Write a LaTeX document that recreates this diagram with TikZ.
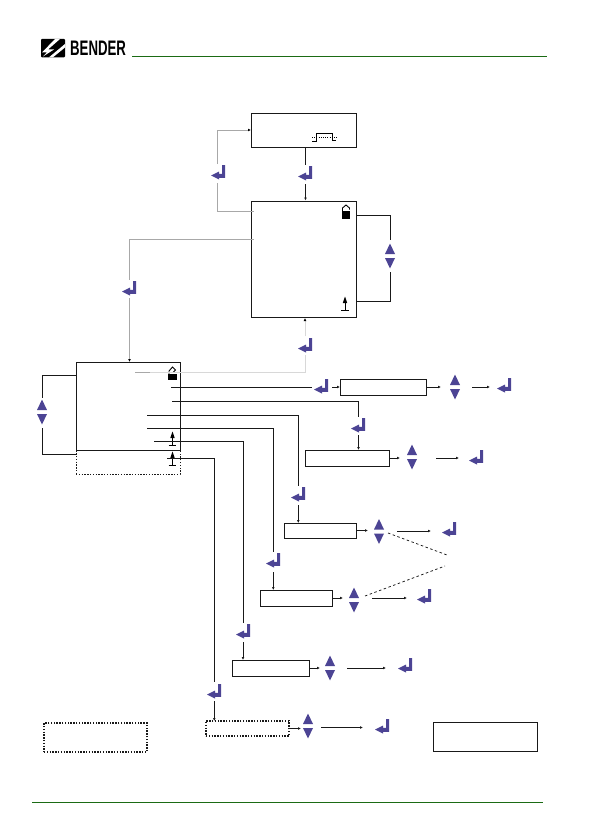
\documentclass[tikz,border=0pt]{standalone}
\usepackage{fontspec}
\setmainfont{Liberation Sans}
\usetikzlibrary{arrows.meta}
\definecolor{bgreen}{HTML}{1B6B14}
\definecolor{bpurple}{HTML}{4C4494}
\definecolor{wiregray}{HTML}{A8A8A8}
\definecolor{palegray}{HTML}{D8D8D8}
\newcommand{\boxnode}[6][boxsolid]{%
  \node[#1,minimum width={(#5-#3)*1pt},minimum height={(#6-#4)*1pt}] (#2) at ({(#3+#5)/2},{(#4+#6)/2}) {};}
\tikzset{
  x=1pt,y=-1pt,
  boxsolid/.style={draw=black!90,line width=0.8pt,inner sep=0pt,outer sep=0pt,rectangle},
  boxdotted/.style={draw=black!90,line width=1.2pt,dash pattern=on 1.4pt off 1.4pt,inner sep=0pt,outer sep=0pt,rectangle},
  boxdotfine/.style={draw=black!90,line width=0.8pt,dash pattern=on 1.3pt off 1.5pt,inner sep=0pt,outer sep=0pt,rectangle},
  wire/.style={draw=black!90,line width=0.75pt},
  wirearrow/.style={wire,-{Latex[length=3pt,width=2.8pt]}},
  graywire/.style={draw=wiregray,line width=0.8pt},
  paleline/.style={draw=palegray,line width=1pt},
  enterkey/.pic={\fill[bpurple] (-7,2.5)--(1,-1.5)--(1,0.8)--(4,0.8)--(4,-8)--(7,-8)--(7,4.8)--(1,4.8)--(1,6.5)--cycle;},
  updownkey/.pic={\fill[bpurple] (-5,-2)--(0,-12.5)--(5,-2)--cycle (-5,2)--(5,2)--(0,12.5)--cycle;},
  lockicon/.pic={\fill[black] (-4,0)rectangle(4,8);
    \draw[black,line width=0.9pt] (-3.5,0)--(-3.5,-3)--(0,-6)--(3.5,-3)--(3.5,-1.5);},
  lockshort/.pic={\fill[black] (-4.5,0)rectangle(4.5,6);
    \draw[black,line width=0.9pt] (-3.5,0)--(-3.5,-3)--(0,-7)--(3,-4)--(1,-2);},
  groundicon/.pic={\fill[black] (-2.2,-4)--(0,-10.5)--(2.2,-4)--cycle;
    \draw[black,line width=0.8pt] (0,-5)--(0,3);
    \draw[black,line width=1pt] (-3.8,3)--(3.8,3);},
}
\begin{document}
\begin{tikzpicture}
\useasboundingbox (0,0) rectangle (594,840);
% header and footer
\draw[bgreen,line width=0.8pt] (132,56.3)--(547,56.3);
\draw[bgreen,line width=0.8pt] (32,802.3)--(543,802.3);
\node[anchor=base west,inner sep=0pt,font=\fontsize{21}{21}\selectfont\bfseries,xscale=0.63] (logotext) at (70,55.7) {BENDER};
\fill[black,rounded corners=1pt] (41,39)--(65,39)--(65,57.3)--(41,57.3)--cycle;
\fill[white] (55,39)--(60,39)--(48,49.5)--(54,49.5)--(43,56.5)--(47,52.5)--(42,52.5)--cycle;
\fill[white] (65,44)--(65,47.5)--(53,57.3)--(49,57.3)--cycle;
% boxes
\boxnode{topbox}{251}{113}{356}{147}
\boxnode{mainbox}{251}{201}{356}{317.5}
\boxnode[boxdotfine]{dotpart}{76}{450}{180}{474}
\boxnode{leftbox}{76}{362}{180}{450}
\boxnode{boxa}{340}{379}{426}{395}
\boxnode{boxb}{305}{450}{389}{466}
\boxnode{boxc}{284}{523}{356}{538}
\boxnode{boxd}{260}{590}{332}{606}
\boxnode{boxe}{232}{660}{309}{676}
\boxnode[boxdotted]{boxf}{206}{721}{289}{736}
\boxnode[boxdotted]{notel}{44}{723}{147}{752}
\boxnode{noter}{433}{722}{537}{751}
% pulse symbol
\draw[black,line width=0.6pt] (312,141)--(316.5,141)--(316.5,133.5)--(332.5,133.5)--(332.5,140)--(336,140);
\draw[black,line width=0.6pt,dash pattern=on 1pt off 1.2pt] (312,137.5)--(337,137.5);
% icons
\pic at (346,211) {lockicon};
\pic at (172.5,374) {lockshort};
\pic at (345,307) {groundicon};
\pic at (172.5,442) {groundicon};
\pic at (172.5,462) {groundicon};
% keys
\pic (k1) at (218,173) {enterkey};
\pic (k2) at (305,174) {enterkey};
\pic (k3) at (129,289) {enterkey};
\pic (k4) at (305,346) {enterkey};
\pic (k5) at (321,387) {enterkey};
\pic (k6) at (504,386) {enterkey};
\pic (k7) at (358,426) {enterkey};
\pic (k8) at (476,458) {enterkey};
\pic (k9) at (298,495) {enterkey};
\pic (k10) at (449,530) {enterkey};
\pic (k11) at (273,561) {enterkey};
\pic (k12) at (424,597) {enterkey};
\pic (k13) at (243,632) {enterkey};
\pic (k14) at (405,666) {enterkey};
\pic (k15) at (214,692) {enterkey};
\pic (k16) at (382,727) {enterkey};
\pic at (390,256) {updownkey};
\pic at (42,412) {updownkey};
\pic at (455,387) {updownkey};
\pic at (412,457) {updownkey};
\pic at (379,531.5) {updownkey};
\pic at (354,600) {updownkey};
\pic at (330,668) {updownkey};
\pic at (308,726) {updownkey};
% free-end coordinates
\coordinate (g1) at (254,211);
\coordinate (g2) at (217,183);
\coordinate (g3) at (217,164);
\coordinate (g4) at (254,239);
\coordinate (g5) at (129.5,280);
\coordinate (g6) at (129.5,298);
\coordinate (g7) at (135,372.7);
\coordinate (g8) at (150,372.7);
\coordinate (g9) at (305,355);
\coordinate (g10) at (305,336);
\coordinate (m0) at (305.5,147);
\coordinate (m1) at (305.5,165);
\coordinate (m2) at (305.5,184);
\coordinate (u1) at (390,240);
\coordinate (u2) at (390,272);
\coordinate (l1) at (42,398);
\coordinate (l2) at (42,428);
% gray connectors
\draw[graywire] (g1)--(217,211)--(g2);
\draw[graywire,-{Latex[length=3pt,width=2.8pt,black]}] (g3)--(217,130)--(topbox.west);
\draw[graywire] (g4)--(129.5,239)--(g5);
\draw[graywire,-{Latex[length=3pt,width=2.8pt,black]}] (g6)--(leftbox.north -| g6);
\draw[graywire] (g7)--(g8);
\draw[paleline] (g8)--(305,372.7)--(g9);
\draw[paleline,-{Latex[length=3pt,width=2.8pt,black]}] (g10)--(305,318);
% black connectors
\draw[wire] (m0)--(m1);
\draw[wirearrow] (m2)--(305.5,200.5);
\draw[wire] (mainbox.east |- 0,215)--(390,215)--(u1);
\draw[wire] (u2)--(390,301)--(mainbox.east |- 0,301);
\draw[wire] (leftbox.west |- 0,375)--(42,375)--(l1);
\draw[wire] (l2)--(42,454)--(leftbox.west |- 0,454);
% branch 1
\coordinate (a0) at (171,387);\coordinate (a1) at (312,387);\coordinate (a2) at (332,387);
\coordinate (a3) at (441,387);\coordinate (a4) at (472,387);\coordinate (a5) at (490,387);
\draw[wire] (a0)--(a1);
\draw[wirearrow] (a2)--(boxa.west);
\draw[wirearrow] (boxa.east)--(a3);
\draw[wirearrow] (a4)--(a5);
% branch 2
\coordinate (b0) at (172,401);\coordinate (b1) at (358.5,417);\coordinate (b2) at (358.5,435);
\coordinate (b3) at (400,458);\coordinate (b4) at (436,458);\coordinate (b5) at (459,458);
\draw[wire] (b0)--(358.5,401)--(b1);
\draw[wirearrow] (b2)--(358.5,450);
\draw[wirearrow] (boxb.east)--(b3);
\draw[wirearrow] (b4)--(b5);
% branch 3
\coordinate (c0) at (147,415.3);\coordinate (c1) at (298.3,486);\coordinate (c2) at (298.3,505);
\coordinate (c3) at (368,530.5);\coordinate (c4) at (397,531);\coordinate (c5) at (431,531);
\draw[wire] (c0)--(298.3,415.3)--(c1);
\draw[wirearrow] (c2)--(298.3,523);
\draw[wirearrow] (boxc.east)--(c3);
\draw[wirearrow] (c4)--(c5);
% branch 4
\coordinate (d0) at (147,428.3);\coordinate (d1) at (273.3,552);\coordinate (d2) at (273.3,572);
\coordinate (d3) at (343,598);\coordinate (d4) at (372,598);\coordinate (d5) at (407,598);
\draw[wire] (d0)--(273.3,428.3)--(d1);
\draw[wirearrow] (d2)--(273.3,590);
\draw[wirearrow] (boxd.east)--(d3);
\draw[wirearrow] (d4)--(d5);
% branch 5
\coordinate (e0) at (154,441);\coordinate (e1) at (243,623);\coordinate (e2) at (243,642);
\coordinate (e3) at (320,668);\coordinate (e4) at (347,668);\coordinate (e5) at (386,668);
\draw[wire] (e0)--(243,441)--(e1);
\draw[wirearrow] (e2)--(243,660);
\draw[wirearrow] (boxe.east)--(e3);
\draw[wirearrow] (e4)--(e5);
% branch 6
\coordinate (f0) at (167,458.3);\coordinate (f1) at (214.3,682);\coordinate (f2) at (214.3,701);
\coordinate (f3) at (301,728.5);\coordinate (f4) at (321,727.5);\coordinate (f5) at (363,727.5);
\draw[wire] (f0)--(214.3,458.3)--(f1);
\draw[wirearrow] (f2)--(214.3,721);
\draw[wirearrow] (boxf.east)--(f3);
\draw[wirearrow] (f4)--(f5);
% dashed pair
\coordinate (h1) at (388,533);\coordinate (h2) at (447,555);
\coordinate (h3) at (365,596);\coordinate (h4) at (445,566);
\draw[wire,dash pattern=on 2.5pt off 2.5pt] (h1)--(h2);
\draw[wire,dash pattern=on 2.5pt off 2.5pt] (h3)--(h4);
\end{tikzpicture}
\end{document}
